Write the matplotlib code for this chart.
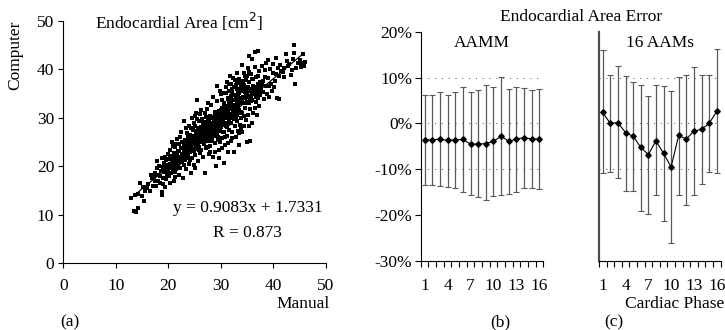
import numpy as np
import matplotlib
matplotlib.use('Agg')
from matplotlib import pyplot as plt
from matplotlib.ticker import FixedLocator, NullFormatter

plt.rcParams['font.family'] = ['Liberation Serif', 'DejaVu Serif']

# (a) manual vs computer endocardial area, points
area_pairs = [
    (12.8, 13.4), (13.5, 10.8), (13.9, 10.5), (14.3, 11.4), (14.2, 14.3), (14.6, 16.5), (15.0, 13.9), (15.3, 12.8),
    (15.6, 14.8), (15.9, 15.6), (16.2, 16.3), (16.5, 14.9), (15.2, 15.8), (13.6, 14.0), (16.8, 17.5),
    (17.0, 16.0), (17.2, 17.8), (17.4, 18.6), (17.6, 15.9), (17.8, 19.6), (18.0, 17.0), (18.1, 18.3), (18.3, 20.1),
    (18.4, 16.5), (18.6, 19.1), (18.7, 21.8), (18.8, 14.6), (18.8, 14.0), (18.9, 17.6), (19.0, 16.4), (19.1, 18.9),
    (19.2, 20.7), (19.3, 22.0), (19.4, 19.5), (19.5, 17.3), (19.6, 21.2), (19.7, 18.2), (19.8, 20.0), (19.9, 22.6),
    (17.9, 21.0), (18.5, 18.0), (19.0, 19.8), (16.6, 18.1), (17.5, 16.9), (19.4, 15.8),
    (20.0, 19.2), (20.1, 21.5), (20.2, 17.9), (20.3, 23.3), (20.4, 20.4), (20.5, 18.6), (20.6, 22.1), (20.7, 19.9),
    (20.8, 24.1), (20.9, 21.0), (21.0, 16.9), (21.0, 22.8), (21.1, 20.6), (21.2, 18.8), (21.3, 23.9), (21.4, 21.7),
    (21.5, 19.5), (21.6, 25.7), (21.7, 22.4), (21.8, 20.1), (21.9, 23.2), (22.0, 18.3), (22.0, 21.1), (22.1, 24.6),
    (22.2, 22.0), (22.3, 19.6), (22.4, 23.7), (22.5, 20.8), (22.6, 25.1), (22.7, 21.9), (22.8, 17.6), (22.9, 23.0),
    (23.0, 29.4), (20.3, 16.5), (21.5, 24.5), (22.2, 26.0), (20.8, 20.9), (21.8, 21.3), (22.5, 22.6), (20.6, 24.9),
    (21.3, 17.8), (22.9, 20.2), (23.0, 24.4), (21.2, 22.0), (22.4, 27.0),
    (23.1, 21.2), (23.2, 25.5), (23.3, 22.6), (23.4, 19.4), (23.5, 24.0), (23.6, 26.9), (23.7, 21.8), (23.8, 23.3),
    (23.9, 28.3), (24.0, 20.5), (24.0, 25.0), (24.1, 22.9), (24.2, 26.5), (24.3, 18.6), (24.4, 24.3), (24.5, 29.9),
    (24.5, 21.6), (24.6, 27.4), (24.7, 23.6), (24.8, 25.8), (24.9, 20.3), (25.0, 24.8), (25.0, 28.4), (25.1, 22.4),
    (25.2, 26.2), (25.3, 31.0), (25.4, 23.5), (25.5, 33.7), (25.5, 27.2), (25.6, 21.0), (25.7, 25.4), (25.8, 29.3),
    (25.9, 24.0), (26.0, 26.8), (26.0, 22.7), (23.3, 27.8), (23.8, 24.7), (24.2, 23.2), (24.7, 26.0), (25.2, 24.5),
    (25.7, 27.9), (23.6, 22.3), (24.4, 27.9), (25.4, 29.7), (23.9, 25.9), (24.9, 23.1), (25.8, 23.3), (24.1, 21.3),
    (25.1, 30.4), (23.4, 24.9), (24.6, 25.3), (25.3, 25.9), (25.9, 26.0), (24.3, 25.6), (25.6, 24.6), (23.1, 23.7),
    (26.0, 30.8), (25.0, 19.7), (24.8, 28.9), (23.7, 26.1),
    (26.1, 25.1), (26.2, 28.0), (26.3, 23.4), (26.4, 29.8), (26.5, 26.3), (26.6, 21.9), (26.7, 27.6), (26.8, 24.6),
    (26.9, 30.9), (27.0, 26.0), (27.0, 18.6), (27.1, 28.8), (27.2, 23.8), (27.3, 27.0), (27.4, 31.8), (27.5, 25.3),
    (27.6, 29.5), (27.7, 22.5), (27.8, 28.2), (27.9, 26.5), (28.0, 24.2), (28.0, 30.3), (28.1, 27.4), (28.2, 32.6),
    (28.3, 25.7), (28.4, 29.0), (28.5, 22.0), (28.6, 28.0), (28.7, 26.2), (28.8, 31.2), (28.9, 24.8), (29.0, 27.7),
    (29.0, 20.0), (29.1, 29.9), (29.2, 26.8), (29.3, 33.5), (29.4, 25.4), (29.5, 28.6), (29.6, 23.3), (29.7, 30.6),
    (29.8, 27.3), (29.9, 35.5), (26.2, 26.7), (26.5, 24.9), (26.8, 28.5), (27.1, 25.6), (27.4, 27.3), (27.7, 26.9),
    (28.0, 28.4), (28.3, 27.9), (28.6, 26.6), (28.9, 29.3), (29.2, 28.1), (29.5, 26.1), (29.8, 29.1), (26.4, 27.2),
    (26.9, 26.3), (27.3, 29.1), (27.8, 27.0), (28.2, 26.0), (28.7, 28.8), (29.1, 27.0), (29.6, 28.3), (26.7, 25.4),
    (27.2, 30.1), (27.6, 24.0), (28.1, 25.3), (28.5, 30.0), (28.9, 27.5), (29.4, 29.5), (29.9, 25.0), (26.3, 31.6),
    (27.5, 33.0), (28.4, 34.3), (29.3, 36.6), (27.9, 23.0), (28.8, 22.9), (29.7, 21.8), (26.6, 28.9), (27.0, 28.0),
    (30.0, 28.0), (30.1, 31.5), (30.2, 25.8), (30.3, 33.6), (30.4, 29.3), (30.5, 20.6), (30.5, 27.1), (30.6, 35.0),
    (30.7, 30.4), (30.8, 24.3), (30.9, 32.2), (31.0, 28.7), (31.1, 37.4), (31.1, 26.2), (31.2, 30.9), (31.3, 22.9),
    (31.4, 34.1), (31.5, 29.6), (31.6, 27.5), (31.7, 38.5), (31.8, 31.8), (31.9, 25.2), (32.0, 33.0), (32.0, 29.0),
    (32.1, 36.0), (32.2, 27.0), (32.3, 31.0), (32.4, 23.0), (32.5, 34.7), (32.6, 28.2), (32.7, 37.8), (32.8, 30.1),
    (32.9, 26.1), (33.0, 32.8), (33.0, 39.2), (33.1, 29.4), (33.2, 35.5), (33.3, 27.3), (33.4, 31.6), (33.5, 24.3),
    (33.5, 26.8), (33.6, 37.2), (33.7, 33.4), (33.8, 29.9), (33.9, 35.9), (30.2, 30.0), (30.6, 28.5), (31.0, 32.0),
    (31.4, 30.5), (31.8, 29.0), (32.2, 32.5), (32.6, 31.5), (33.0, 30.5), (33.4, 33.0), (30.4, 27.0), (30.8, 31.2),
    (31.2, 28.1), (31.6, 32.8), (32.0, 30.6), (32.4, 29.7), (32.8, 33.8), (33.2, 31.0), (33.6, 28.6), (30.1, 34.8),
    (30.9, 36.3), (31.5, 35.5), (32.3, 38.1), (32.9, 36.7), (31.3, 24.8), (32.1, 25.8), (30.7, 26.1), (33.8, 27.7),
    (31.9, 37.0), (30.3, 23.8), (31.7, 33.9),
    (34.0, 31.0), (34.1, 40.8), (34.2, 34.3), (34.3, 28.2), (34.4, 36.8), (34.5, 32.0), (34.6, 38.7), (34.7, 29.6),
    (34.8, 35.0), (34.9, 25.1), (35.0, 33.3), (35.1, 40.2), (35.2, 30.5), (35.3, 37.3), (35.4, 42.8), (35.5, 25.3),
    (35.5, 34.5), (35.6, 31.8), (35.7, 39.0), (35.8, 36.0), (35.9, 29.0), (36.0, 33.6), (36.0, 42.1), (36.1, 37.9),
    (36.2, 31.0), (36.3, 35.3), (36.4, 40.5), (36.5, 43.5), (36.6, 33.2), (36.7, 38.3), (36.8, 35.9), (36.9, 30.5),
    (37.0, 43.8), (37.0, 36.9), (37.1, 34.0), (37.2, 39.7), (37.3, 32.5), (37.4, 37.2), (37.5, 35.1), (34.2, 33.0),
    (34.6, 34.0), (35.0, 36.0), (35.4, 33.0), (35.8, 34.2), (36.2, 36.6), (36.6, 35.0), (37.0, 38.5), (34.4, 30.3),
    (34.8, 37.7), (35.3, 28.3), (36.4, 32.0), (34.0, 27.0), (35.9, 38.0), (34.3, 39.2), (37.4, 34.7),
    (37.6, 36.1), (37.8, 40.6), (38.0, 35.3), (38.1, 37.5), (38.2, 33.9), (38.4, 39.8), (38.5, 36.5), (38.6, 41.2),
    (38.8, 34.8), (39.0, 38.2), (39.2, 36.6), (39.4, 40.1), (39.5, 37.0), (39.7, 35.6), (39.9, 39.3), (40.0, 41.0),
    (40.2, 37.6), (40.4, 39.0), (40.6, 34.0), (40.8, 40.3), (41.0, 33.8), (41.0, 38.5), (41.2, 40.9), (40.1, 36.4),
    (39.1, 34.3), (38.3, 38.3), (37.9, 37.0), (41.4, 39.6), (40.5, 42.3), (38.9, 42.0),
    (41.8, 39.4), (42.0, 40.3), (42.3, 43.1), (42.5, 41.7), (42.8, 40.6), (43.0, 41.0), (43.3, 38.9), (43.6, 39.8),
    (44.0, 45.0), (44.0, 43.3), (44.1, 36.9), (44.3, 40.2), (44.7, 41.2), (45.0, 42.0), (45.4, 41.3), (45.6, 43.1),
    (45.8, 40.7), (46.0, 41.5), (45.3, 40.4), (42.1, 38.3), (43.8, 42.2),
    # dense core near the fit line
    (19.5, 19.0), (19.8, 18.6), (20.0, 20.3), (20.2, 19.6), (20.4, 21.8), (20.5, 20.0), (20.7, 21.3), (20.9, 19.3),
    (21.0, 20.8), (21.2, 21.9), (21.4, 20.3), (21.5, 22.6), (21.7, 21.0), (21.9, 22.0), (22.0, 20.6), (22.1, 23.1),
    (22.3, 21.5), (22.5, 22.2), (22.6, 23.8), (22.8, 22.4), (23.0, 21.6), (23.1, 22.9), (23.3, 24.2), (23.4, 23.0),
    (23.6, 24.6), (23.8, 22.6), (23.9, 23.9), (24.0, 24.6), (24.2, 24.0), (24.4, 25.4), (24.5, 23.2), (24.7, 24.9),
    (24.9, 26.2), (25.0, 25.4), (25.2, 23.8), (25.3, 27.0), (25.5, 25.0), (25.6, 26.4), (25.8, 25.6), (26.0, 27.6),
    (26.1, 26.2), (26.3, 27.8), (26.4, 25.6), (26.6, 27.0), (26.7, 28.4), (26.9, 27.3), (27.0, 29.2), (27.1, 26.7),
    (27.3, 28.2), (27.4, 26.0), (27.5, 28.8), (27.7, 27.8), (27.8, 29.6), (27.9, 28.0), (28.0, 26.8), (28.1, 29.0),
    (28.2, 28.3), (28.3, 30.2), (28.4, 27.2), (28.5, 28.9), (28.6, 29.5), (28.7, 27.6), (28.8, 30.4), (28.9, 28.4),
    (29.0, 29.0), (29.1, 31.0), (29.2, 29.6), (29.3, 27.8), (29.4, 30.5), (29.5, 29.2), (29.6, 31.4), (29.7, 28.8),
    (29.8, 30.2), (29.9, 27.6), (30.0, 30.8), (30.1, 29.3), (30.2, 32.0), (30.3, 28.6), (30.4, 31.1), (30.5, 30.1),
    (30.6, 32.6), (30.7, 29.0), (30.8, 30.6), (30.9, 28.2), (31.0, 31.4), (31.1, 29.9), (31.2, 32.4), (31.3, 31.0),
    (31.4, 28.8), (31.5, 33.2), (31.6, 30.2), (31.7, 31.9), (31.8, 34.0), (31.9, 30.8), (32.0, 32.0), (32.2, 30.0),
    (32.3, 33.6), (32.4, 31.6), (32.5, 32.6), (32.7, 30.7), (32.8, 34.6), (32.9, 32.2), (33.0, 33.5), (33.2, 34.2),
    (33.3, 32.4), (33.5, 35.0), (33.6, 33.2), (33.8, 31.2), (33.9, 34.0), (34.0, 33.6), (34.2, 35.6), (34.4, 34.0),
    (34.6, 35.3), (34.8, 33.0), (35.0, 34.9), (35.2, 36.4), (35.4, 34.2), (35.6, 35.6), (35.8, 33.5), (36.0, 35.0),
    (36.3, 36.2), (36.6, 34.3), (36.9, 36.4), (37.2, 35.8), (37.5, 37.4),
    (30.5, 33.0), (31.0, 35.2), (31.5, 37.0), (32.0, 34.4), (32.5, 36.4), (33.0, 35.9), (33.4, 38.0), (33.8, 36.5),
    (34.2, 37.6), (34.6, 36.2), (35.0, 38.6), (35.4, 39.5), (33.1, 37.3), (32.2, 35.0), (31.3, 33.8),
]
manual = np.array([p[0] for p in area_pairs])
computer = np.array([p[1] for p in area_pairs])
fit_slope, fit_icpt = 0.9083, 1.7331
fit_x = [12.8, 45.6]

# (b), (c) area error per cardiac phase [%]
phase = np.arange(1, 17)
aamm_mean = [-3.6, -3.6, -3.4, -3.7, -3.6, -3.5, -4.5, -4.5, -4.4, -3.9, -2.8, -3.9, -3.4, -3.1, -3.4, -3.4]
aamm_hi = [6.2, 6.2, 6.9, 6.3, 6.8, 8.0, 6.8, 7.2, 8.3, 7.9, 10.1, 7.6, 8.0, 7.8, 7.2, 7.6]
aamm_lo = [-13.5, -13.5, -13.7, -13.8, -14.0, -14.9, -15.7, -16.1, -16.8, -15.9, -15.6, -15.4, -15.0, -14.0, -14.0, -14.3]
aams_mean = [2.4, 0.0, 0.2, -2.0, -2.8, -5.2, -6.8, -3.8, -6.5, -9.5, -2.6, -3.4, -1.7, -1.3, 0.0, 2.6]
aams_hi = [16.0, 10.6, 12.6, 10.4, 9.0, 8.4, 6.0, 8.3, 8.1, 7.0, 10.2, 10.6, 12.2, 10.6, 10.6, 16.2]
aams_lo = [-10.9, -10.6, -11.9, -14.7, -14.8, -19.0, -19.8, -15.7, -21.2, -26.1, -15.5, -17.7, -15.6, -13.3, -10.6, -10.9]
pct_ticks = [20, 10, 0, -10, -20, -30]
pct_labels = ['20%', '10%', '0%', '-10%', '-20%', '-30%']
phase_ticks = [1, 4, 7, 10, 13, 16]

W, H = 725, 330
fig = plt.figure(figsize=(W / 100, H / 100), dpi=100)


def box(x0, y0, x1, y1):
    return [x0 / W, 1 - y1 / H, (x1 - x0) / W, (y1 - y0) / H]


def ftext(x, y, s, **kw):
    fig.text(x / W, 1 - y / H, s, ha=kw.pop('ha', 'center'), va=kw.pop('va', 'center'), **kw)


fs = 12.5

# ---- (a) scatter
ax = fig.add_axes(box(63.3, 20.7, 326, 263.3))
ax.scatter(manual, computer, s=6, c='black', marker='s', linewidths=0)
ax.plot(fit_x, [fit_slope * v + fit_icpt for v in fit_x], color='black', lw=0.9)
ax.set_xlim(0, 50)
ax.set_ylim(0, 50)
ax.set_xticks([0, 10, 20, 30, 40, 50])
ax.set_yticks([0, 10, 20, 30, 40, 50])
ax.tick_params(direction='out', length=3.5, width=0.8, labelsize=fs, pad=7)
ax.tick_params(axis='y', pad=3)
for s in ['top', 'right']:
    ax.spines[s].set_visible(False)
ax.text(0.989, 0.228, 'y = 0.9083x + 1.7331', transform=ax.transAxes, ha='right', va='center', fontsize=fs)
ax.text(0.833, 0.125, 'R = 0.873', transform=ax.transAxes, ha='right', va='center', fontsize=fs)
ftext(179, 22, 'Endocardial Area [cm$^2$]', fontsize=fs)
ftext(15, 55, 'Computer', rotation=90, fontsize=fs)
ftext(330, 304, 'Manual', ha='right', fontsize=fs)
ftext(70, 322, '(a)', fontsize=fs)


# ---- (b), (c) error bars
def err_panel(rect, mean, hi, lo, title, show_labels):
    a = fig.add_axes(rect)
    mean = np.array(mean)
    yerr = [mean - np.array(lo), np.array(hi) - mean]
    for lvl in [10, 0, -10]:
        a.axhline(lvl, color='0.3', lw=0.7, ls=(0, (1, 6)), zorder=0)
    a.errorbar(phase, mean, yerr=yerr, fmt='none', ecolor='0.35', elinewidth=0.9, capsize=2, capthick=0.8)
    a.plot(phase, mean, color='black', lw=0.8, marker='D', ms=2.8)
    a.set_xlim(0.5, 16.5)
    a.set_ylim(-30, 20)
    a.xaxis.set_major_locator(FixedLocator(phase_ticks))
    a.xaxis.set_minor_locator(FixedLocator(np.arange(0.5, 17, 1)))
    a.xaxis.set_minor_formatter(NullFormatter())
    a.tick_params(axis='x', which='major', length=0, labelsize=fs, pad=12)
    a.tick_params(axis='x', which='minor', direction='out', length=4, width=0.8)
    a.set_yticks(pct_ticks)
    if show_labels:
        a.set_yticklabels(pct_labels)
        a.tick_params(axis='y', direction='out', length=4, width=0.8, labelsize=fs, pad=2)
    else:
        a.tick_params(axis='y', length=0, labelleft=False)
        a.spines['left'].set_linewidth(1.6)
        a.spines['left'].set_color('0.3')
    for s in ['top', 'right']:
        a.spines[s].set_visible(False)
    a.text(0.5, 0.985, title, transform=a.transAxes, ha='center', va='top', fontsize=fs)
    return a


err_panel(box(420.7, 31.7, 543.3, 261), aamm_mean, aamm_hi, aamm_lo, 'AAMM', True)
err_panel(box(598.9, 31.7, 720.5, 261), aams_mean, aams_hi, aams_lo, '16 AAMs', False)
ftext(581, 17, 'Endocardial Area Error', fontsize=fs)
ftext(724, 304, 'Cardiac Phase', ha='right', fontsize=fs)
ftext(500, 322, '(b)', fontsize=fs)
ftext(614, 322, '(c)', fontsize=fs)

fig.savefig('out.png', dpi=100)
